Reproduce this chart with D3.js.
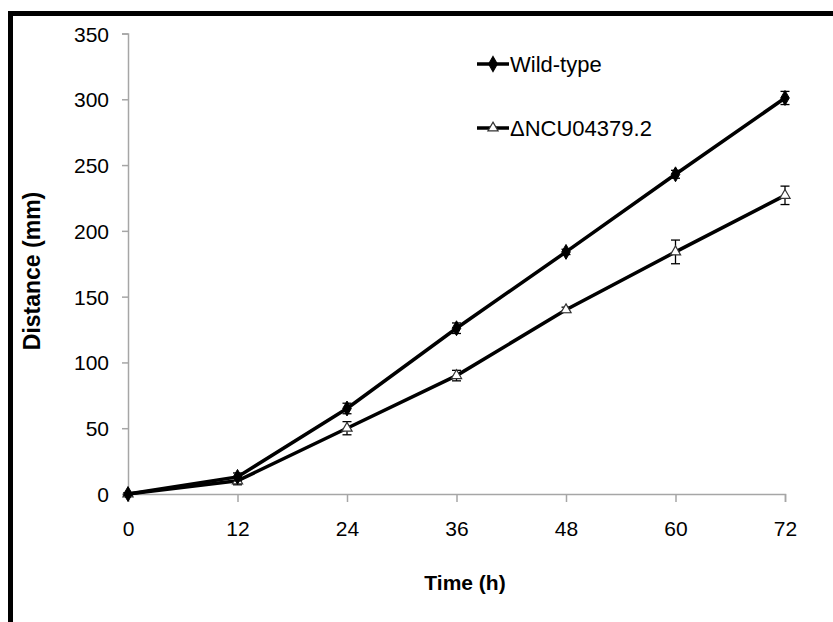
<!DOCTYPE html>
<html><head><meta charset="utf-8">
<script src="https://cdn.jsdelivr.net/npm/d3@7"></script>
<style>body{margin:0;background:#fff}svg{display:block}text{font-family:Arial,"Liberation Sans",sans-serif}</style>
</head><body><svg id="c" width="833" height="622"></svg>
<script>
const times = [0, 12, 24, 36, 48, 60, 72];
const wildType = [0, 13, 65, 126, 184, 243, 301];
const wildErr = [1, 3, 4, 4, 2, 3, 5];
const mutant = [0, 10, 50, 90, 140, 184, 227];
const mutantErr = [1, 3, 5, 4, 2, 9, 7];
const yTicks = [0, 50, 100, 150, 200, 250, 300, 350];
const seriesNames = ["Wild-type", "\u0394NCU04379.2"];

const svg = d3.select("#c");
// frame
svg.append("rect").attr("x", 8).attr("y", 11).attr("width", 840).attr("height", 5).attr("fill", "#000");
svg.append("rect").attr("x", 8).attr("y", 11).attr("width", 5).attr("height", 620).attr("fill", "#000");

const x = d3.scaleLinear().domain([0, 72]).range([128, 785]);
const y = d3.scaleLinear().domain([0, 350]).range([494, 33.5]);

const axisColor = "#a6a6a6";
const gx = svg.append("g").attr("transform", `translate(0,${y(0)})`)
  .call(d3.axisBottom(x).tickValues(times).tickSize(8).tickPadding(19).tickFormat(d3.format("d")));
const gy = svg.append("g").attr("transform", `translate(${x(0)},0)`)
  .call(d3.axisLeft(y).tickValues(yTicks).tickSize(6).tickPadding(13).tickFormat(d3.format("d")));
[gx, gy].forEach(g => {
  g.select(".domain").attr("stroke", axisColor).attr("stroke-width", 1.5);
  g.selectAll(".tick line").attr("stroke", axisColor).attr("stroke-width", 1.5);
  g.selectAll(".tick text").attr("fill", "#000").style("font-size", "21px").style("font-family", "Arial, 'Liberation Sans', sans-serif");
});
gx.selectAll(".tick text").attr("dy", "0.71em");
gy.selectAll(".tick text").attr("dy", "0.36em");

const line = d3.line().x(d => x(d[0])).y(d => y(d[1]));
const wtData = times.map((t, i) => [t, wildType[i], wildErr[i]]);
const mtData = times.map((t, i) => [t, mutant[i], mutantErr[i]]);

function drawSeries(data, isDiamond) {
  svg.append("path").datum(data).attr("d", line).attr("fill", "none").attr("stroke", "#000").attr("stroke-width", 3.5);
  const g = svg.append("g");
  data.forEach(d => {
    const cx = x(d[0]);
    g.append("line").attr("x1", cx).attr("x2", cx).attr("y1", y(d[1] - d[2])).attr("y2", y(d[1] + d[2])).attr("stroke", "#000").attr("stroke-width", 1.3);
    [d[1] - d[2], d[1] + d[2]].forEach(v => g.append("line").attr("x1", cx - 4.5).attr("x2", cx + 4.5).attr("y1", y(v)).attr("y2", y(v)).attr("stroke", "#000").attr("stroke-width", 1.3));
  });
  data.forEach(d => {
    const sym = d3.symbol().type(isDiamond ? d3.symbolDiamond : d3.symbolTriangle).size(isDiamond ? 64 : 45);
    g.append("path").attr("d", sym()).attr("transform", `translate(${x(d[0])},${y(d[1])})`)
      .attr("fill", isDiamond ? "#000" : "#fff").attr("stroke", isDiamond ? "#000" : "#333").attr("stroke-width", isDiamond ? 1 : 1.2);
  });
}
drawSeries(mtData, false);
drawSeries(wtData, true);

// legend
const legend = [{name: seriesNames[0], y: 64, diamond: true}, {name: seriesNames[1], y: 128, diamond: false}];
legend.forEach(l => {
  svg.append("line").attr("x1", 477).attr("x2", 509).attr("y1", l.y).attr("y2", l.y).attr("stroke", "#000").attr("stroke-width", 3.5);
  const sym = d3.symbol().type(l.diamond ? d3.symbolDiamond : d3.symbolTriangle).size(l.diamond ? 64 : 45);
  svg.append("path").attr("d", sym()).attr("transform", `translate(493,${l.y})`)
    .attr("fill", l.diamond ? "#000" : "#fff").attr("stroke", l.diamond ? "#000" : "#333").attr("stroke-width", 1.2);
  svg.append("text").attr("x", 510).attr("y", l.y).attr("dy", "0.36em").style("font-size", "22px").text(l.name);
});

// axis titles
svg.append("text").attr("x", 465).attr("y", 590).attr("text-anchor", "middle").style("font-size", "21px").style("font-weight", "bold").text("Time (h)");
svg.append("text").attr("transform", "translate(40,271) rotate(-90)").attr("text-anchor", "middle").style("font-size", "23px").style("font-weight", "bold").text("Distance (mm)");
</script></body></html>
